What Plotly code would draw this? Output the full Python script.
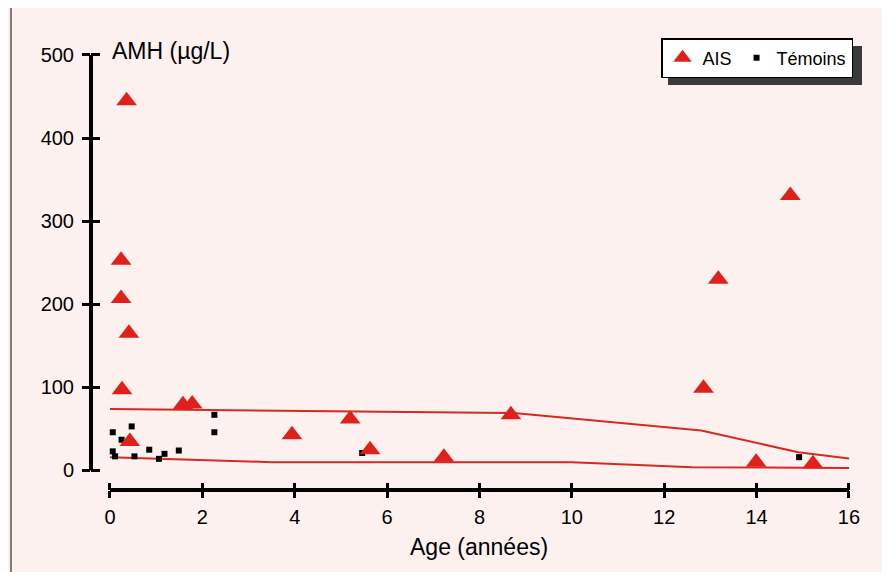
import plotly.graph_objects as go

# ---------------- data ----------------
ais_age = [0.36, 0.24, 0.24, 0.41, 0.26, 0.43, 1.58, 1.78, 3.94, 5.2, 5.63, 7.23, 8.68, 12.85, 13.17, 13.99, 14.73, 15.22]
ais_amh = [445, 253, 207, 165, 97, 35, 79, 80, 43, 62, 25, 16, 67, 99, 230, 10, 331, 8]

tem_age = [0.06, 0.25, 0.47, 0.06, 0.11, 0.53, 0.85, 1.06, 1.18, 1.49, 2.26, 2.26, 5.46, 14.92]
tem_amh = [46, 37, 53, 23, 17, 17, 25, 14, 20, 24, 67, 46, 21, 16]

upper_age = [0, 8.8, 12.8, 14.9, 16]
upper_amh = [74, 69, 48, 22, 14.5]
lower_age = [0, 3.5, 10, 12.6, 16]
lower_amh = [16, 10, 10, 4, 3]

x_ticks = [0, 2, 4, 6, 8, 10, 12, 14, 16]
y_ticks = [0, 100, 200, 300, 400, 500]

RED_LINE = "#d42a22"
RED_MARK = "#e0201b"
BG = "#fdf1f0"
FONT = "Liberation Sans, Arial, sans-serif"

fig = go.Figure()

fig.add_trace(go.Scatter(x=upper_age, y=upper_amh, mode="lines",
                         line=dict(color=RED_LINE, width=2), showlegend=False, hoverinfo="skip"))
fig.add_trace(go.Scatter(x=lower_age, y=lower_amh, mode="lines",
                         line=dict(color=RED_LINE, width=2), showlegend=False, hoverinfo="skip"))
fig.add_trace(go.Scatter(x=tem_age, y=tem_amh, mode="markers", name="Témoins",
                         marker=dict(symbol="square", size=6, color="black"), showlegend=True))
fig.add_trace(go.Scatter(x=ais_age, y=ais_amh, mode="markers", name="AIS",
                         marker=dict(symbol="triangle-up", size=18, color=RED_MARK,
                                     line=dict(width=0))))
# empty trace on the overlay axes so that the inner ticks are drawn
fig.add_trace(go.Scatter(x=[], y=[], xaxis="x2", yaxis="y2", showlegend=False))

x_range = [-0.411, 16.195]
y_range = [-23.5, 510.8]

fig.update_layout(
    width=890, height=572,
    margin=dict(l=83, r=40, t=38, b=90),
    paper_bgcolor=BG, plot_bgcolor=BG,
    font=dict(family=FONT, color="black"),
    xaxis=dict(range=x_range, tickvals=x_ticks, showgrid=False, zeroline=False, showline=False,
               ticks="outside", ticklen=7, tickwidth=2.5, tickcolor="black",
               tickfont=dict(size=20, family=FONT), ticklabelstandoff=2),
    yaxis=dict(range=y_range, tickvals=y_ticks, showgrid=False, zeroline=False, showline=False,
               ticks="outside", ticklen=8, tickwidth=2.5, tickcolor="black",
               tickfont=dict(size=20, family=FONT), ticklabelstandoff=4),
    xaxis2=dict(range=x_range, tickvals=x_ticks, overlaying="x", side="bottom", showgrid=False,
                zeroline=False, showline=False, ticks="inside", ticklen=7, tickwidth=2.5,
                tickcolor="black", showticklabels=False),
    yaxis2=dict(range=y_range, tickvals=y_ticks, overlaying="y", side="left", showgrid=False,
                zeroline=False, showline=False, ticks="inside", ticklen=9, tickwidth=2.5,
                tickcolor="black", showticklabels=False),
    legend=dict(orientation="h", x=0.7432, y=1.018, xanchor="left", yanchor="top",
                bgcolor="white", bordercolor="black", borderwidth=1.5,
                font=dict(size=18, family=FONT), traceorder="reversed"),
    showlegend=True,
)

shapes = [
    # outer frame
    dict(type="rect", xref="paper", yref="paper", x0=-0.1043, x1=1.0339, y0=-0.3, y1=1.0878,
         line=dict(color="#555555", width=1.5), fillcolor="rgba(0,0,0,0)", layer="below"),
    # legend shadow
    dict(type="rect", xref="paper", yref="paper", x0=0.7523, x1=1.0052, y0=0.9122, y1=1.0,
         line=dict(width=0), fillcolor="#3a3a3a", layer="above"),
    # axis lines
    dict(type="line", xref="x", yref="paper", x0=0, x1=16, y0=0, y1=0,
         line=dict(color="black", width=4)),
    dict(type="line", xref="paper", yref="y", x0=0, x1=0, y0=0, y1=500,
         line=dict(color="black", width=4)),
]
fig.update_layout(shapes=shapes)

fig.add_annotation(text="AMH (µg/L)", xref="x", yref="paper", x=0, y=0.9887,
                   xanchor="left", yanchor="middle", showarrow=False,
                   font=dict(size=23, family=FONT))
fig.add_annotation(text="Age (années)", xref="paper", yref="paper", x=0.5059, y=-0.1284,
                   xanchor="center", yanchor="middle", showarrow=False,
                   font=dict(size=23, family=FONT))

fig.write_html("out.html")
